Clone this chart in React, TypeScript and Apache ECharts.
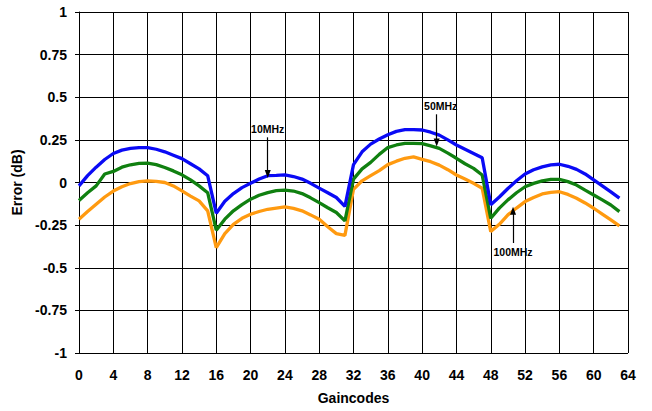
import React, { useEffect, useRef } from "react";
import * as echarts from "echarts";

const gaincodes: number[] = Array.from({ length: 64 }, (_, i) => i);

const mhz10: number[] = [
  -0.02, 0.04, 0.09, 0.135, 0.17, 0.19, 0.2, 0.205, 0.205, 0.195,
  0.18, 0.16, 0.14, 0.11, 0.08, 0.04, -0.18, -0.11, -0.065, -0.03,
  -0.005, 0.02, 0.04, 0.042, 0.045, 0.035, 0.02, -0.005, -0.033, -0.06,
  -0.088, -0.14, 0.105, 0.18, 0.225, 0.255, 0.28, 0.3, 0.31, 0.31,
  0.308, 0.295, 0.278, 0.25, 0.22, 0.195, 0.17, 0.145, -0.13, -0.085,
  -0.035, 0.01, 0.05, 0.075, 0.092, 0.103, 0.107, 0.095, 0.077, 0.05,
  0.015, -0.02, -0.055, -0.092,
];

const mhz50: number[] = [
  -0.105, -0.06, -0.02, 0.05, 0.065, 0.09, 0.104, 0.112, 0.114, 0.105,
  0.088, 0.068, 0.045, 0.015, -0.02, -0.06, -0.28, -0.215, -0.166, -0.13,
  -0.098, -0.075, -0.059, -0.048, -0.045, -0.05, -0.065, -0.09, -0.118, -0.148,
  -0.176, -0.225, 0.02, 0.08, 0.118, 0.165, 0.205, 0.22, 0.229, 0.23,
  0.228, 0.215, 0.2, 0.172, 0.142, 0.11, 0.083, 0.044, -0.21, -0.15,
  -0.102, -0.06, -0.025, -0.005, 0.01, 0.018, 0.018, 0.005, -0.015, -0.045,
  -0.073, -0.102, -0.132, -0.171,
];

const mhz100: number[] = [
  -0.215, -0.17, -0.127, -0.085, -0.05, -0.025, -0.006, 0.005, 0.01, 0.007,
  0.0, -0.02, -0.049, -0.08, -0.108, -0.166, -0.382, -0.3, -0.245, -0.21,
  -0.186, -0.17, -0.157, -0.15, -0.143, -0.152, -0.166, -0.19, -0.215, -0.26,
  -0.3, -0.31, -0.04, 0.01, 0.04, 0.07, 0.105, 0.125, 0.142, 0.15,
  0.136, 0.122, 0.102, 0.075, 0.044, 0.02, -0.005, -0.034, -0.288, -0.245,
  -0.19, -0.15, -0.112, -0.088, -0.067, -0.058, -0.054, -0.07, -0.092, -0.12,
  -0.151, -0.185, -0.219, -0.254,
];

// annotation arrows: [label, x, yStart, yEnd]
const annotations: [string, number, number, number][] = [
  ["10MHz", 22, 0.265, 0.05],
  ["50MHz", 41.7, 0.4, 0.235],
  ["100MHz", 50.6, -0.355, -0.165],
];

const labelShift: [number, number][] = [[0, 0], [4, 0], [0, 0]];

const FONT = "'Liberation Sans', Arial, sans-serif";

export default function App() {
  const ref = useRef<HTMLDivElement>(null);

  useEffect(() => {
    if (!ref.current) return;
    const chart = echarts.init(ref.current, undefined, { renderer: "svg" });

    const toPairs = (vals: number[]) => gaincodes.map((g, i) => [g, vals[i]]);

    const markFor = (idx: number) => {
      const [label, x, y0, y1] = annotations[idx];
      return {
        silent: true,
        symbol: ["none", "triangle"],
        symbolSize: [6, 8],
        lineStyle: { color: "#000", width: 1.2, type: "solid" },
        label: {
          show: true,
          position: "start",
          formatter: label,
          fontFamily: FONT,
          fontWeight: "bold",
          fontSize: 10.5,
          color: "#000",
          distance: 3,
          offset: labelShift[idx],
        },
        data: [[{ coord: [x, y0] }, { coord: [x, y1] }]],
      };
    };

    chart.setOption({
      animation: false,
      backgroundColor: "#fff",
      grid: { left: 79, right: 24, top: 12, bottom: 58, containLabel: false },
      xAxis: {
        type: "value",
        min: 0,
        max: 64,
        interval: 4,
        name: "Gaincodes",
        nameLocation: "middle",
        nameGap: 38,
        nameTextStyle: { fontFamily: FONT, fontWeight: "bold", fontSize: 14, color: "#000" },
        axisLine: { show: true, lineStyle: { color: "#000", width: 1 } },
        axisTick: { show: true, length: 4, lineStyle: { color: "#000" } },
        axisLabel: { fontFamily: FONT, fontWeight: "bold", fontSize: 14, color: "#000", margin: 15 },
        splitLine: { show: true, lineStyle: { color: "#000", width: 1 } },
      },
      yAxis: {
        type: "value",
        min: -1,
        max: 1,
        interval: 0.25,
        name: "Error (dB)",
        nameLocation: "middle",
        nameRotate: 90,
        nameGap: 51,
        nameTextStyle: { fontFamily: FONT, fontWeight: "bold", fontSize: 14, color: "#000" },
        axisLine: { show: true, lineStyle: { color: "#000", width: 1 } },
        axisTick: { show: true, length: 4, lineStyle: { color: "#000" } },
        axisLabel: {
          fontFamily: FONT,
          fontWeight: "bold",
          fontSize: 14,
          color: "#000",
          margin: 12,
          formatter: (v: number) => String(v),
        },
        splitLine: { show: true, lineStyle: { color: "#000", width: 1 } },
      },
      series: [
        {
          name: "100MHz",
          type: "line",
          data: toPairs(mhz100),
          showSymbol: false,
          lineStyle: { color: "#FF9A10", width: 3.3 },
          itemStyle: { color: "#FF9A10" },
          z: 2,
          markLine: markFor(2),
        },
        {
          name: "50MHz",
          type: "line",
          data: toPairs(mhz50),
          showSymbol: false,
          lineStyle: { color: "#108010", width: 3.3 },
          itemStyle: { color: "#108010" },
          z: 3,
          markLine: markFor(1),
        },
        {
          name: "10MHz",
          type: "line",
          data: toPairs(mhz10),
          showSymbol: false,
          lineStyle: { color: "#0A0AF5", width: 3.3 },
          itemStyle: { color: "#0A0AF5" },
          z: 4,
          markLine: markFor(0),
        },
      ],
    });

    return () => chart.dispose();
  }, []);

  return (
    <div
      ref={ref}
      style={{ position: "fixed", left: 0, top: 0, width: 652, height: 411 }}
    />
  );
}
